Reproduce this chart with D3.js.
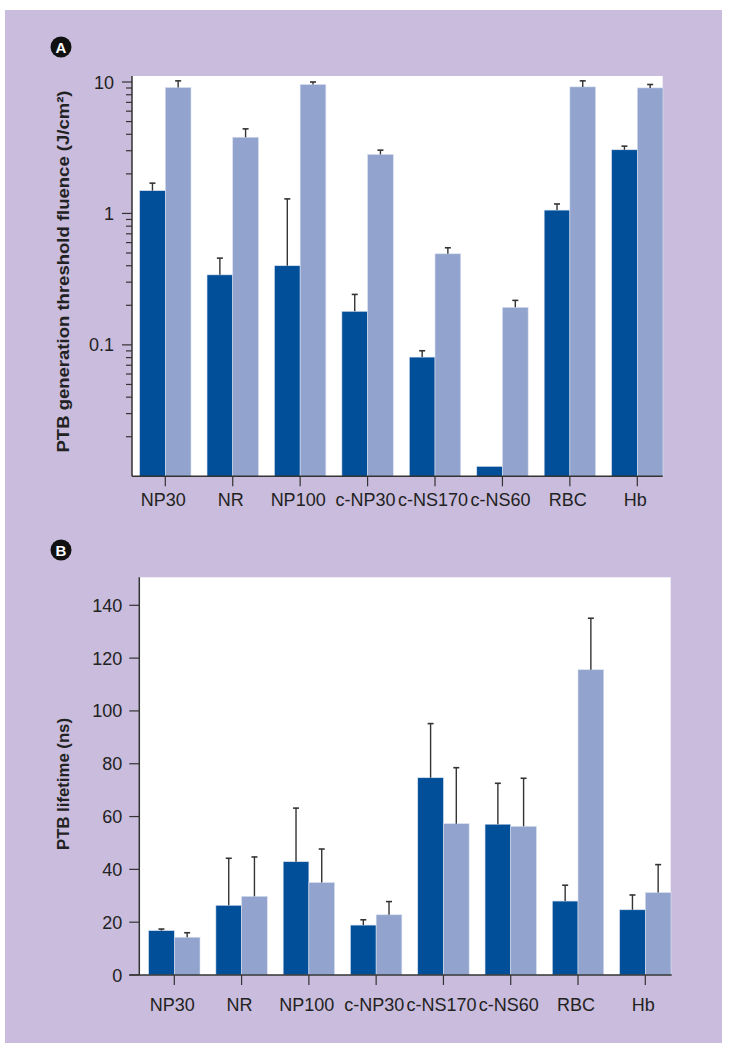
<!DOCTYPE html>
<html><head><meta charset="utf-8">
<script src="https://cdn.jsdelivr.net/npm/d3@7"></script>
<style>
html,body{margin:0;padding:0;background:#fff;}
svg text{font-family:"Liberation Sans",Arial,Helvetica,sans-serif;}
</style></head>
<body>
<svg id="c" width="731" height="1050"></svg>
<script>
const categories = ["NP30","NR","NP100","c-NP30","c-NS170","c-NS60","RBC","Hb"];
// Panel A: threshold fluence (J/cm²), log scale
const fluenceDark     = [1.49, 0.341, 0.40, 0.180, 0.0807, 0.0119, 1.06, 3.05];
const fluenceDarkErr  = [1.70, 0.457, 1.29, 0.242, 0.0902, null,   1.18, 3.25];
const fluenceLight    = [9.08, 3.80, 9.57, 2.81, 0.493, 0.193, 9.18, 9.02];
const fluenceLightErr = [10.2, 4.40, 10.0, 3.03, 0.548, 0.218, 10.2, 9.57];
const logMajorTicks = [10, 1, 0.1];
const logMinorTicks = [9,8,7,6,5,4,3,2,0.9,0.8,0.7,0.6,0.5,0.4,0.3,0.2,0.09,0.08,0.07,0.06,0.05,0.04,0.03,0.02];
// Panel B: lifetime (ns)
const lifeDark     = [16.8, 26.4, 42.9, 18.9, 74.7, 57.1, 28.0, 24.7];
const lifeDarkErr  = [17.4, 44.2, 63.2, 20.9, 95.2, 72.6, 34.0, 30.3];
const lifeLight    = [14.3, 29.8, 35.0, 22.8, 57.3, 56.3, 115.6, 31.2];
const lifeLightErr = [16.0, 44.7, 47.7, 27.8, 78.5, 74.5, 135.1, 41.8];
const linTicks = [0,20,40,60,80,100,120,140];

const DARK = "#004f98", LIGHT = "#92a4cd", BG = "#c9bcdc", AX = "#333333";
const svg = d3.select("#c");
svg.append("rect").attr("x",5).attr("y",10).attr("width",717).attr("height",1033).attr("fill",BG);

const BW = 25.7;

function badge(x,y,letter){
  svg.append("circle").attr("cx",x).attr("cy",y).attr("r",10.5).attr("fill","#111");
  svg.append("text").attr("x",x).attr("y",y+5.5).attr("text-anchor","middle")
    .attr("font-size",15).attr("font-weight","bold").attr("fill","#fff").text(letter);
}

function drawBars(g, x, y, vals, errs, offset, color, base){
  vals.forEach((v,i)=>{
    const cx = x(categories[i]) + offset;
    g.append("rect").attr("x",cx).attr("y",y(v)).attr("width",BW).attr("height",base - y(v))
      .attr("fill",color).attr("stroke","#d8dff0").attr("stroke-width",0.6);
    if(errs[i]!=null){
      const mx = cx + BW/2;
      g.append("line").attr("x1",mx).attr("x2",mx).attr("y1",y(v)).attr("y2",y(errs[i]))
        .attr("stroke",AX).attr("stroke-width",1.4);
      g.append("line").attr("x1",mx-3).attr("x2",mx+3).attr("y1",y(errs[i])).attr("y2",y(errs[i]))
        .attr("stroke",AX).attr("stroke-width",1.6);
    }
  });
}

// ---------- Panel A ----------
(function(){
  const left=132, right=662.7, bottom=476.3;
  const y = d3.scaleLog().domain([0.01,10]).range([bottom,82]);
  const top = y(10)-6;
  const x = d3.scalePoint().domain(categories).range([165.3,637.3]);
  svg.append("rect").attr("x",left).attr("y",top).attr("width",right-left).attr("height",bottom-top).attr("fill","#fff");
  const g = svg.append("g");
  drawBars(g,x,y,fluenceDark,fluenceDarkErr,-BW,DARK,bottom);
  drawBars(g,x,y,fluenceLight,fluenceLightErr,0,LIGHT,bottom);
  // axes
  svg.append("line").attr("x1",left).attr("x2",left).attr("y1",top).attr("y2",bottom).attr("stroke",AX).attr("stroke-width",1.5);
  svg.append("line").attr("x1",left).attr("x2",right).attr("y1",bottom).attr("y2",bottom).attr("stroke",AX).attr("stroke-width",1.5);
  logMajorTicks.forEach(t=>{
    svg.append("line").attr("x1",left-10).attr("x2",left).attr("y1",y(t)).attr("y2",y(t)).attr("stroke",AX).attr("stroke-width",1.2);
    svg.append("text").attr("x",left-18).attr("y",y(t)+6.5).attr("text-anchor","end").attr("font-size",18).attr("fill","#222").text(String(t));
  });
  logMinorTicks.forEach(t=>{
    svg.append("line").attr("x1",left-6).attr("x2",left).attr("y1",y(t)).attr("y2",y(t)).attr("stroke",AX).attr("stroke-width",1.2);
  });
  categories.forEach(c=>{
    svg.append("line").attr("x1",x(c)).attr("x2",x(c)).attr("y1",bottom).attr("y2",bottom+10).attr("stroke",AX).attr("stroke-width",1.2);
    svg.append("text").attr("x",x(c)-2).attr("y",506).attr("text-anchor","middle").attr("font-size",18).attr("fill","#222").text(c);
  });
  svg.append("text").attr("transform","translate(69,271.5) rotate(-90)").attr("text-anchor","middle")
    .attr("font-size",17).attr("font-weight","bold").attr("fill","#222")
    .attr("textLength",362).attr("lengthAdjust","spacingAndGlyphs")
    .text("PTB generation threshold fluence (J/cm²)");
  badge(61,47,"A");
})();

// ---------- Panel B ----------
(function(){
  const left=139.3, right=670.7, bottom=975;
  const y = d3.scaleLinear().domain([0,140]).range([bottom,605.3]);
  const top = 577.3;
  const x = d3.scalePoint().domain(categories).range([174.3,645.3]);
  svg.append("rect").attr("x",left).attr("y",top).attr("width",right-left).attr("height",bottom-top).attr("fill","#fff");
  const g = svg.append("g");
  drawBars(g,x,y,lifeDark,lifeDarkErr,-BW,DARK,bottom);
  drawBars(g,x,y,lifeLight,lifeLightErr,0,LIGHT,bottom);
  svg.append("line").attr("x1",left).attr("x2",left).attr("y1",top).attr("y2",bottom).attr("stroke",AX).attr("stroke-width",1.5);
  svg.append("line").attr("x1",left-10).attr("x2",right+1).attr("y1",bottom).attr("y2",bottom).attr("stroke",AX).attr("stroke-width",1.5);
  linTicks.forEach(t=>{
    svg.append("line").attr("x1",left-10).attr("x2",left).attr("y1",y(t)).attr("y2",y(t)).attr("stroke",AX).attr("stroke-width",1.2);
    svg.append("text").attr("x",left-17).attr("y",y(t)+6.5).attr("text-anchor","end").attr("font-size",18).attr("fill","#222").text(String(t));
  });
  categories.forEach(c=>{
    svg.append("line").attr("x1",x(c)).attr("x2",x(c)).attr("y1",bottom).attr("y2",bottom+10).attr("stroke",AX).attr("stroke-width",1.2);
    svg.append("text").attr("x",x(c)-2).attr("y",1010.5).attr("text-anchor","middle").attr("font-size",18).attr("fill","#222").text(c);
  });
  svg.append("text").attr("transform","translate(69,784) rotate(-90)").attr("text-anchor","middle")
    .attr("font-size",17).attr("font-weight","bold").attr("fill","#222")
    .attr("textLength",132).attr("lengthAdjust","spacingAndGlyphs")
    .text("PTB lifetime (ns)");
  badge(61,550,"B");
})();
</script>
</body></html>
